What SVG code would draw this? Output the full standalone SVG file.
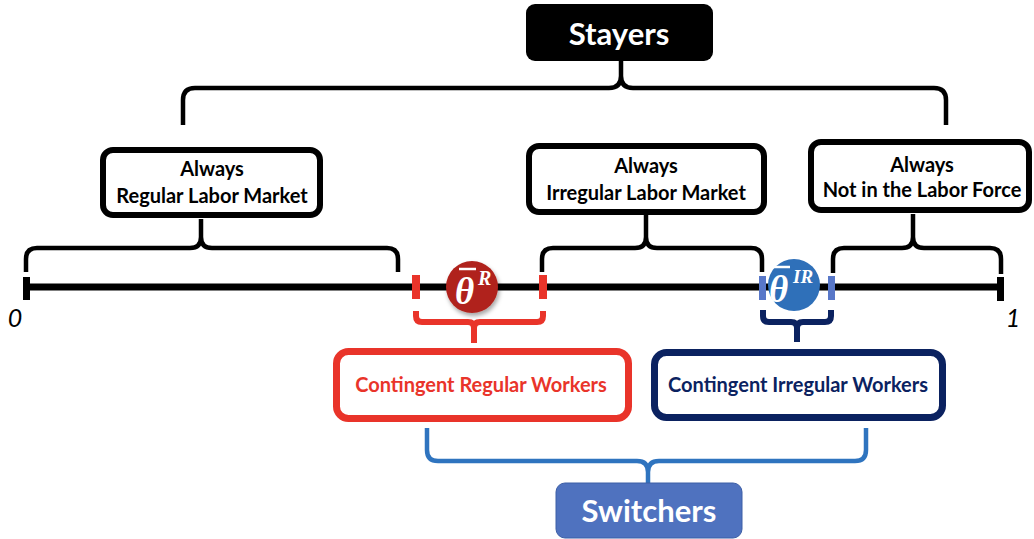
<svg xmlns="http://www.w3.org/2000/svg" width="1034" height="539" viewBox="0 0 1034 539">
  <defs>
    <style>
      .brace { fill: none; stroke-linecap: butt; stroke-linejoin: round; }
      .blk { stroke: #000; stroke-width: 4.5; }
      .box { fill: #fff; stroke: #000; stroke-width: 6; }
      .lbl { font-family: Lato, "Open Sans", sans-serif; font-weight: 700; text-anchor: middle; }
      .theta { font-family: "Liberation Serif", "DejaVu Serif", serif; font-style: italic; font-weight: 700; fill: #fff; }
      .axis { font-family: Lato, "Open Sans", sans-serif; font-style: italic; font-size: 25px; fill: #000; text-anchor: middle; }
    </style>
    <filter id="shadow" x="-30%" y="-30%" width="170%" height="170%">
      <feDropShadow dx="1.5" dy="3" stdDeviation="2" flood-color="#000" flood-opacity="0.35"/>
    </filter>
  </defs>

  <rect width="1034" height="539" fill="#fff"/>

  <!-- connectors: braces and the unit interval -->
  <g id="connectors">
    <!-- Stayers brace -->
    <path class="brace blk" d="M183 125 V100 Q183 88 195 88 H609 Q621 88 621 76 V60 M621 76 Q621 88 633 88 H934 Q946 88 946 100 V125"/>
    <!-- braces under the three stayer groups -->
    <path class="brace blk" d="M26 272 V259 Q26 248 37 248 H190 Q201 248 201 237 V219 M201 237 Q201 248 212 248 H387 Q398 248 398 259 V272"/>
    <path class="brace blk" d="M542 272 V259 Q542 248 553 248 H635 Q646 248 646 237 V215 M646 237 Q646 248 657 248 H751 Q762 248 762 259 V272"/>
    <path class="brace blk" d="M833 273 V259 Q833 248 844 248 H902 Q913 248 913 237 V214 M913 237 Q913 248 924 248 H990 Q1001 248 1001 259 V274"/>

    <!-- unit interval -->
    <line x1="27" y1="287" x2="1001" y2="287" stroke="#000" stroke-width="7"/>
    <rect x="23" y="277" width="7" height="23" fill="#000"/>
    <rect x="997" y="277" width="7" height="24" fill="#000"/>

    <!-- threshold ticks -->
    <rect x="412" y="275" width="8" height="24" fill="#e9342a"/>
    <rect x="539" y="275" width="8" height="24" fill="#e9342a"/>
    <rect x="759" y="276" width="7" height="24" fill="#5877c8"/>
    <rect x="828" y="276" width="7" height="24" fill="#5877c8"/>

    <!-- contingent braces -->
    <path class="brace" stroke="#e9342a" stroke-width="6" d="M416 311 V316 Q416 322 422 322 H468 Q474 322 474 328 V343 M474 328 Q474 322 480 322 H537 Q543 322 543 316 V311"/>
    <path class="brace" stroke="#0b2260" stroke-width="6" d="M763 310 V316 Q763 322 769 322 H791 Q797 322 797 328 V342 M797 328 Q797 322 803 322 H825 Q831 322 831 316 V310"/>

    <!-- Switchers brace -->
    <path class="brace" stroke="#2f74bf" stroke-width="4.5" d="M427 428 V450 Q427 461 438 461 H637 Q648 461 648 472 V484 M648 472 Q648 461 659 461 H855 Q866 461 866 450 V428"/>
  </g>

  <!-- interval end labels -->
  <text class="axis" x="15" y="327">0</text>
  <text class="axis" x="1013" y="327">1</text>

  <g id="stayers">
    <rect x="526" y="4" width="187" height="57" rx="9" fill="#000"/>
    <text class="lbl" x="619" y="45" font-size="31" fill="#fff">Stayers</text>
  </g>

  <g id="always-regular">
    <rect class="box" x="103" y="150" width="217" height="65" rx="10"/>
    <text class="lbl" x="212" y="176" font-size="20">Always</text>
    <text class="lbl" x="212" y="203" font-size="20">Regular Labor Market</text>
  </g>

  <g id="always-irregular">
    <rect class="box" x="529" y="146" width="235" height="66" rx="10"/>
    <text class="lbl" x="646" y="173" font-size="20">Always</text>
    <text class="lbl" x="646" y="200" font-size="20">Irregular Labor Market</text>
  </g>

  <g id="always-nilf">
    <rect class="box" x="811" y="142" width="218" height="68" rx="10"/>
    <text class="lbl" x="922" y="172" font-size="20">Always</text>
    <text class="lbl" x="922" y="197" font-size="20">Not in the Labor Force</text>
  </g>

  <g id="theta-r">
    <circle cx="472" cy="287" r="26" fill="#b0231d" filter="url(#shadow)"/>
    <line x1="459" y1="269" x2="476" y2="269" stroke="#fff" stroke-width="2.5"/>
    <text class="theta" x="455" y="304" font-size="37">θ</text>
    <text class="theta" x="478" y="285" font-size="20">R</text>
  </g>

  <g id="theta-ir">
    <circle cx="794" cy="285" r="26" fill="#2f70b9"/>
    <line x1="773" y1="267" x2="790" y2="267" stroke="#fff" stroke-width="2.5"/>
    <text class="theta" x="769" y="302" font-size="37">θ</text>
    <text class="theta" x="793" y="283" font-size="19">IR</text>
  </g>

  <g id="contingent-regular">
    <rect x="336.5" y="351.5" width="292" height="67" rx="12" fill="#fff" stroke="#e9342a" stroke-width="7"/>
    <text class="lbl" x="481" y="392" font-size="20" fill="#e9342a">Contingent Regular Workers</text>
  </g>

  <g id="contingent-irregular">
    <rect x="654.5" y="352.5" width="288" height="65" rx="12" fill="#fff" stroke="#0b2260" stroke-width="7"/>
    <text class="lbl" x="798" y="392" font-size="20" fill="#0b2260">Contingent Irregular Workers</text>
  </g>

  <g id="switchers">
    <rect x="556" y="483" width="186" height="55" rx="9" fill="#4f72bf" stroke="#3d5ea6" stroke-width="1"/>
    <text class="lbl" x="649" y="522" font-size="31" fill="#fff">Switchers</text>
  </g>
</svg>
